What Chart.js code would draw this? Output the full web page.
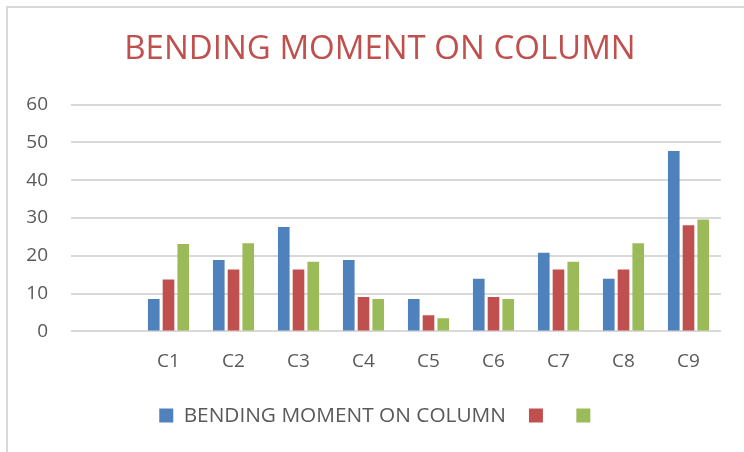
<!DOCTYPE html>
<html>
<head>
<meta charset="utf-8">
<script src="https://cdn.jsdelivr.net/npm/chart.js@4/dist/chart.umd.min.js"></script>
<style>
  html, body { margin: 0; padding: 0; background: #fff; }
  #wrap { position: relative; width: 744px; height: 452px; overflow: hidden; }
  #frame { position: absolute; left: 6px; top: 6px; width: 800px; height: 500px;
           border-left: 2px solid #d9d9d9; border-top: 2px solid #d9d9d9; box-sizing: border-box; }
  canvas { position: absolute; left: 0; top: 0; }
</style>
</head>
<body>
<div id="wrap">
  <div id="frame"></div>
  <canvas id="c" width="744" height="452"></canvas>
</div>
<script>
const categories = ['', 'C1', 'C2', 'C3', 'C4', 'C5', 'C6', 'C7', 'C8', 'C9'];
const seriesNames = ['BENDING MOMENT ON COLUMN', '', ''];
const series1 = [null, 8.6, 18.9, 27.6, 18.9, 8.6, 13.9, 20.8, 13.9, 47.7];
const series2 = [null, 13.7, 16.4, 16.4, 9.1, 4.3, 9.1, 16.4, 16.4, 28.1];
const series3 = [null, 23.1, 23.3, 18.4, 8.6, 3.5, 8.6, 18.4, 23.3, 29.6];
const yTicks = [0, 10, 20, 30, 40, 50, 60];
const colors = ['#4F81BD', '#C0504D', '#9BBB59'];

const FONT = "'Open Sans', 'DejaVu Sans', sans-serif";
const seriesData = [series1, series2, series3];

new Chart(document.getElementById('c'), {
  type: 'bar',
  data: {
    labels: categories,
    datasets: seriesData.map((d, i) => ({
      label: seriesNames[i],
      data: d,
      backgroundColor: colors[i],
      borderWidth: 0,
      categoryPercentage: 0.68,
      barPercentage: 0.79
    }))
  },
  options: {
    responsive: false,
    animation: false,
    layout: { padding: { left: 16, right: 0, top: 0, bottom: 16 } },
    plugins: {
      title: {
        display: true,
        text: 'BENDING MOMENT ON COLUMN',
        color: '#C0504D',
        font: { family: FONT, size: 33, weight: 'normal', lineHeight: 1.2 },
        padding: { top: 30, bottom: 35 }
      },
      legend: {
        position: 'bottom',
        labels: { color: '#595959', font: { family: FONT, size: 20.8 }, boxWidth: 14, boxHeight: 14, padding: 23 }
      },
      tooltip: { enabled: false }
    },
    scales: {
      x: {
        afterFit: (scale) => { scale.height = 50.8; },
        grid: { display: false, drawTicks: false },
        border: { display: false },
        ticks: { color: '#595959', font: { family: FONT, size: 19 }, padding: 19 }
      },
      y: {
        min: 0,
        max: 60,
        afterBuildTicks: (scale) => { scale.ticks = yTicks.map(v => ({ value: v })); },
        afterFit: (scale) => { scale.width = 55; },
        grid: { color: '#d9d9d9', lineWidth: 2, drawTicks: false },
        border: { display: false },
        ticks: { color: '#595959', font: { family: FONT, size: 19 }, padding: 23 }
      },
      yRight: {
        position: 'right',
        display: true,
        afterFit: (scale) => { scale.width = 23; },
        grid: { display: false, drawTicks: false },
        border: { display: false },
        ticks: { display: false }
      }
    }
  }
});
</script>
</body>
</html>
